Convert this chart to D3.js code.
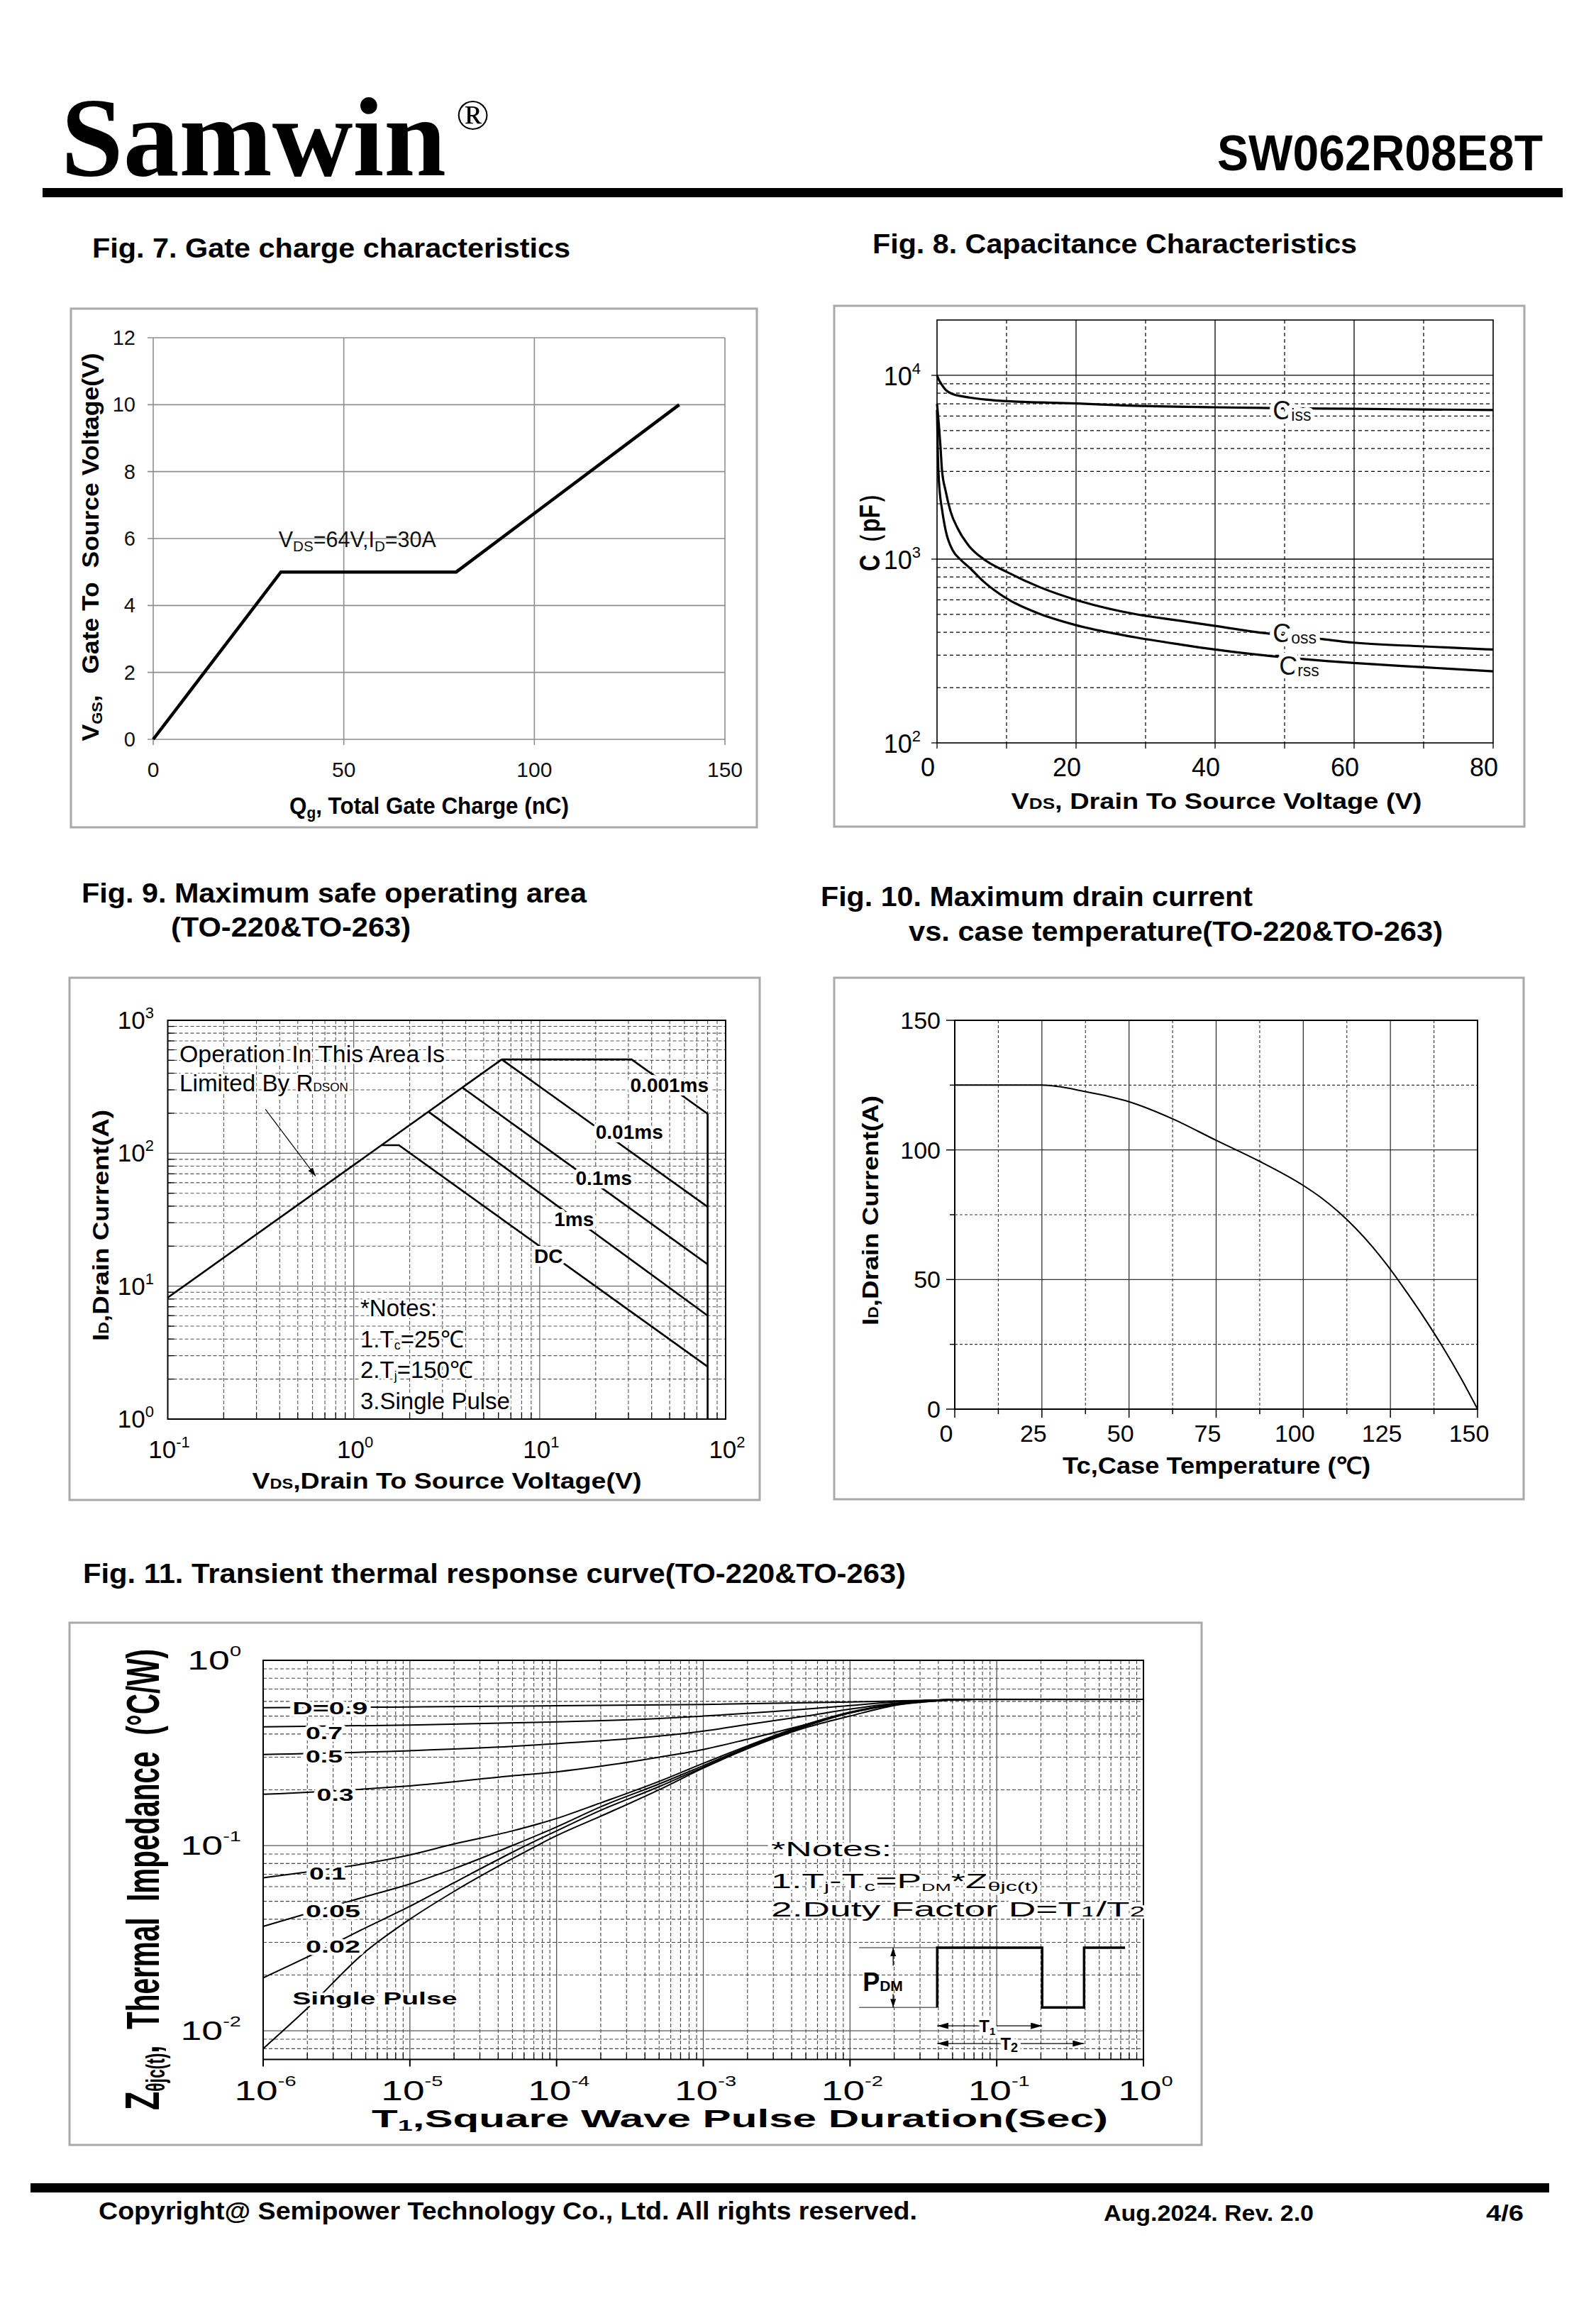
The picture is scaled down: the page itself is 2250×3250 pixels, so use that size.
<!DOCTYPE html>
<html><head><meta charset="utf-8"><title>SW062R08E8T</title>
<script src="https://cdn.jsdelivr.net/npm/d3@7/dist/d3.min.js"></script>
<style>html,body{margin:0;padding:0;background:#fff}svg{display:block}text{white-space:pre}</style>
</head><body>
<script>
// ===================== DATA =====================
const brandName = "Samwin";
const partNumber = "SW062R08E8T";

// Fig.7 Gate charge
const gateChargeQg = [0, 33.5, 79.5, 138];
const gateChargeVgs = [0, 5, 5, 10];
const gateQgTicks = [0, 50, 100, 150];
const gateVgsTicks = [0, 2, 4, 6, 8, 10, 12];

// Fig.8 Capacitance
const cissVds = [0, 0.3, 0.6, 1.26, 2.28, 3.5, 4.66, 7, 10, 15, 20, 27.5, 40, 50, 60, 70, 80];
const cissPf  = [10000, 9400, 9000, 8320, 7900, 7700, 7570, 7380, 7230, 7120, 7030, 6850, 6700, 6620, 6570, 6520, 6480];
const cossVds = [0, 0.26, 0.5, 0.7, 1.26, 1.94, 2.96, 4.66, 6.7, 10, 14.8, 20, 28.4, 35, 40, 47, 56, 60, 70, 80];
const cossPf  = [7000, 5400, 4090, 3085, 2330, 1820, 1472, 1172, 1000, 853, 703, 600, 503, 462, 433, 396, 365, 351, 335, 322];
const crssVds = [0, 0.1, 0.2, 0.4, 0.7, 1.26, 2.28, 3.3, 4.66, 6.7, 10, 14.8, 20, 28.4, 35, 40, 48, 56, 60, 70, 80];
const crssPf  = [6500, 4000, 3000, 2300, 1885, 1422, 1112, 1000, 899, 755, 611, 503, 437, 376, 343, 322, 297, 279, 272, 258, 245];
const capVdsTicks = [0, 20, 40, 60, 80];
const capPfTicks = [100, 1000, 10000];
const capPfTickExp = [2, 3, 4];
const capLabelSubs = ["iss", "oss", "rss"];
const capLabelV = [48.3, 48.3, 49.2];
const capLabelPf = [5780, 352, 234];

// Fig.9 Safe operating area
const soaRdsonLimit = [[0.1, 8.2], [6.25, 508]];
const soa0001ms = [[6.25, 508], [31.2, 508], [80, 198]];
const soa001ms = [[6.25, 508], [80, 39.5]];
const soa01ms = [[3.84, 312], [80, 14.6]];
const soa1ms = [[2.54, 204], [80, 6.0]];
const soaDC = [[1.42, 115], [1.75, 115], [80, 2.48]];
const soaVdssLimit = [[80, 198], [80, 1]];
const soaLabelText = ["0.001ms", "0.01ms", "0.1ms", "1ms", "DC"];
const soaLabelV = [30.7, 20.0, 15.6, 11.97, 9.33];
const soaLabelI = [290, 129, 58, 28.4, 15.0];
const soaVTicks = [0.1, 1, 10, 100];
const soaVTickExp = [-1, 0, 1, 2];
const soaITicks = [1, 10, 100, 1000];
const soaITickExp = [0, 1, 2, 3];
const soaArrow = [[0.335, 214], [0.6235, 67.4]];

// Fig.10 Max drain current vs case temperature
const caseTempC = [0, 25, 37.5, 50, 62.5, 75, 87.5, 100, 105, 110, 115, 120, 125, 130, 135, 140, 145, 150];
const drainCurrentA = [125, 125, 122.5, 118.6, 112, 103.7, 95.6, 86.3, 81.7, 76.2, 69.8, 62.4, 53.9, 44.5, 34.6, 24.0, 12.5, 0];
const tempTicks = [0, 25, 50, 75, 100, 125, 150];
const currentTicks = [0, 50, 100, 150];

// Fig.11 Transient thermal response
const zthD09 = [[1e-6,0.555],[1e-5,0.56],[1e-4,0.568],[1e-3,0.578],[1e-2,0.595],[3e-2,0.608],[6e-2,0.614],[1,0.615]];
const zthD07 = [[1e-6,0.437],[1e-5,0.447],[1e-4,0.465],[5e-4,0.485],[1e-3,0.5],[5e-3,0.545],[1e-2,0.57],[2e-2,0.595],[4e-2,0.61],[7e-2,0.615],[1,0.615]];
const zthD05 = [[1e-6,0.31],[1e-5,0.325],[5e-5,0.343],[1e-4,0.355],[5e-4,0.39],[1e-3,0.415],[2e-3,0.45],[5e-3,0.5],[1e-2,0.545],[2e-2,0.585],[4e-2,0.607],[7e-2,0.615],[1,0.615]];
const zthD03 = [[1e-6,0.189],[5e-6,0.202],[1e-5,0.21],[5e-5,0.238],[1e-4,0.25],[2e-4,0.268],[5e-4,0.3],[1e-3,0.33],[2e-3,0.375],[5e-3,0.45],[1e-2,0.52],[2e-2,0.575],[4e-2,0.605],[7e-2,0.615],[1,0.615]];
const zthD01 = [[1e-6,0.067],[2e-6,0.072],[5e-6,0.08],[1e-5,0.089],[2e-5,0.102],[5e-5,0.12],[1e-4,0.14],[2e-4,0.17],[5e-4,0.222],[1e-3,0.278],[2e-3,0.345],[5e-3,0.45],[1e-2,0.525],[2e-2,0.58],[4e-2,0.61],[7e-2,0.615],[1,0.615]];
const zthD005 = [[1e-6,0.0366],[2e-6,0.043],[5e-6,0.053],[1e-5,0.062],[2e-5,0.075],[5e-5,0.1],[1e-4,0.126],[2e-4,0.162],[5e-4,0.215],[1e-3,0.27],[2e-3,0.34],[5e-3,0.445],[1e-2,0.52],[2e-2,0.58],[4e-2,0.61],[7e-2,0.615],[1,0.615]];
const zthD002 = [[1e-6,0.0193],[2e-6,0.025],[5e-6,0.036],[1e-5,0.047],[2e-5,0.063],[5e-5,0.092],[1e-4,0.12],[2e-4,0.155],[5e-4,0.208],[1e-3,0.265],[2e-3,0.335],[5e-3,0.44],[1e-2,0.52],[2e-2,0.58],[4e-2,0.61],[7e-2,0.615],[1,0.615]];
const zthSingle = [[1e-6,0.008],[2e-6,0.0132],[5e-6,0.0268],[1e-5,0.040],[2e-5,0.0565],[5e-5,0.085],[1e-4,0.113],[2e-4,0.144],[5e-4,0.2],[1e-3,0.262],[2e-3,0.333],[5e-3,0.433],[1e-2,0.5],[2e-2,0.57],[4e-2,0.605],[7e-2,0.615],[1,0.615]];
const zthLabelText = ["D=0.9", "0.7", "0.5", "0.3", "0.1", "0.05", "0.02", "Single Pulse"];
const zthLabelT = [1.585e-6, 1.95e-6, 1.95e-6, 2.32e-6, 2.06e-6, 1.95e-6, 1.95e-6, 1.585e-6];
const zthLabelZ = [0.512, 0.376, 0.282, 0.175, 0.0656, 0.0412, 0.0264, 0.01386];
const zthLabelLen = [106, 52, 52, 52, 52, 77, 77, 232];
const zthTTicks = [1e-6, 1e-5, 1e-4, 1e-3, 1e-2, 1e-1, 1];
const zthTTickExp = [-6, -5, -4, -3, -2, -1, 0];
const zthZTicks = [0.01, 0.1, 1];
const zthZTickExp = [-2, -1, 0];
const pulseWaveT = [0.0393, 0.0393, 0.204, 0.204, 0.394, 0.394, 0.75];
const pulseWaveZ = [0.01337, 0.02807, 0.02807, 0.01337, 0.01337, 0.02807, 0.02807];

// ===================== HELPERS =====================
const FONT = "'Liberation Sans', Arial, Helvetica, sans-serif";
const SERIF = "'Liberation Serif', 'Times New Roman', serif";
const svg = d3.select("body").append("svg").attr("width", 2250).attr("height", 3250);
svg.append("rect").attr("width", 2250).attr("height", 3250).attr("fill", "#fff");
const defs = svg.append("defs");
function makeMarker(id, w, h) {
  defs.append("marker").attr("id", id).attr("viewBox", "0 0 10 10").attr("refX", 10).attr("refY", 5)
    .attr("markerWidth", w).attr("markerHeight", h).attr("markerUnits", "userSpaceOnUse")
    .attr("preserveAspectRatio", "none").attr("orient", "auto-start-reverse")
    .append("path").attr("d", "M0,0 L10,5 L0,10 Z").attr("fill", "#000");
}
makeMarker("arrSmall", 12, 8);
makeMarker("arrMid", 16, 9);

function rich(parent, x, y, parts, o) {
  o = Object.assign({size: 30, weight: "normal", anchor: "start", fill: "#000", family: FONT}, o || {});
  const t = parent.append("text").attr("x", x).attr("y", y)
    .attr("font-size", o.size).attr("font-weight", o.weight)
    .attr("text-anchor", o.anchor).attr("fill", o.fill).attr("font-family", o.family);
  if (o.len) t.attr("textLength", o.len).attr("lengthAdjust", "spacingAndGlyphs");
  if (o.transform) t.attr("transform", o.transform);
  if (o.halo) t.attr("stroke", "#fff").attr("stroke-width", o.halo).attr("paint-order", "stroke").attr("stroke-linejoin", "round");
  let cur = 0;
  (Array.isArray(parts) ? parts : [parts]).forEach(p => {
    const part = typeof p === "string" ? {t: p} : p;
    const ts = t.append("tspan").text(part.t);
    const target = part.shift || 0;
    if (target !== cur) { ts.attr("dy", target - cur); cur = target; }
    if (part.size) ts.attr("font-size", part.size);
  });
  return t;
}
function powParts(exp, sup, raise) { return [{t: "10"}, {t: String(exp), size: sup, shift: -raise}]; }
function minors(e0, e1) { const o = []; for (let e = e0; e < e1; e++) for (let k = 2; k <= 9; k++) o.push(k * Math.pow(10, e)); return o; }
function vline(g, x, y1, y2, st) { return g.append("line").attr("x1", x).attr("x2", x).attr("y1", y1).attr("y2", y2).attr("stroke", st.c).attr("stroke-width", st.w).attr("stroke-dasharray", st.d || null); }
function hline(g, y, x1, x2, st) { return g.append("line").attr("x1", x1).attr("x2", x2).attr("y1", y).attr("y2", y).attr("stroke", st.c).attr("stroke-width", st.w).attr("stroke-dasharray", st.d || null); }
function box(x1, y1, x2, y2) { svg.append("rect").attr("x", x1).attr("y", y1).attr("width", x2 - x1).attr("height", y2 - y1).attr("fill", "none").attr("stroke", "#a9a9a9").attr("stroke-width", 3); }
function frame(g, x1, y1, x2, y2, w) { g.append("rect").attr("x", x1).attr("y", y1).attr("width", x2 - x1).attr("height", y2 - y1).attr("fill", "none").attr("stroke", "#000").attr("stroke-width", w); }

// ===================== HEADER / FOOTER =====================
rich(svg, 86, 247, brandName, {size: 158, weight: "bold", family: SERIF, len: 543});
rich(svg, 643, 182, "®", {size: 62, family: SERIF});
rich(svg, 1716, 240, partNumber, {size: 70, weight: "bold", len: 459});
svg.append("rect").attr("x", 60).attr("y", 265).attr("width", 2143).attr("height", 13).attr("fill", "#000");
svg.append("rect").attr("x", 43).attr("y", 3077).attr("width", 2141).attr("height", 13).attr("fill", "#000");
rich(svg, 139, 3128, "Copyright@ Semipower Technology Co., Ltd. All rights reserved.", {size: 35, weight: "bold", len: 1154});
rich(svg, 1556, 3130, "Aug.2024. Rev. 2.0", {size: 31, weight: "bold", len: 296});
rich(svg, 2095, 3130, "4/6", {size: 31, weight: "bold", len: 53});

// Titles
rich(svg, 130, 363, "Fig. 7. Gate charge characteristics", {size: 38, weight: "bold", len: 674});
rich(svg, 1230, 357, "Fig. 8. Capacitance Characteristics", {size: 38, weight: "bold", len: 683});
rich(svg, 115, 1272, "Fig. 9. Maximum safe operating area", {size: 38, weight: "bold", len: 712});
rich(svg, 241, 1320, "(TO-220&TO-263)", {size: 38, weight: "bold", len: 338});
rich(svg, 1157, 1277, "Fig. 10. Maximum drain current", {size: 38, weight: "bold", len: 609});
rich(svg, 1281, 1326, "vs. case temperature(TO-220&TO-263)", {size: 38, weight: "bold", len: 753});
rich(svg, 117, 2231, "Fig. 11. Transient thermal response curve(TO-220&TO-263)", {size: 38, weight: "bold", len: 1160});

// Boxes
box(100, 435, 1067, 1166);
box(1176, 431, 2149, 1165);
box(98, 1378, 1071, 2114);
box(1176, 1378, 2148, 2113);
box(98, 2287, 1694, 3023);

// ===================== FIG 7 =====================
(function () {
  const g = svg.append("g");
  const x = d3.scaleLinear().domain([0, 150]).range([216, 1022]);
  const y = d3.scaleLinear().domain([0, 12]).range([1042, 476]);
  const st = {c: "#8e8e8e", w: 1.6};
  gateQgTicks.forEach(v => vline(g, x(v), y(12), y(0) + 8, st));
  gateVgsTicks.forEach(v => hline(g, y(v), x(0) - 8, x(150), st));
  gateVgsTicks.forEach(v => rich(g, 191, y(v) + 10, String(v), {size: 29, anchor: "end", fill: "#111"}));
  gateQgTicks.forEach(v => rich(g, x(v), 1095, String(v), {size: 30, anchor: "middle", fill: "#111"}));
  const pts = gateChargeQg.map((q, i) => [q, gateChargeVgs[i]]);
  g.append("path").attr("d", d3.line().x(d => x(d[0])).y(d => y(d[1]))(pts))
    .attr("fill", "none").attr("stroke", "#000").attr("stroke-width", 4.5).attr("stroke-linejoin", "miter");
  rich(g, x(32.9), y(5.75), ["V", {t: "DS", size: 21, shift: 6}, {t: "=64V,I", shift: 0}, {t: "D", size: 21, shift: 6}, {t: "=30A", shift: 0}], {size: 31, len: 222, fill: "#111"});
  rich(g, 0, 0, ["V", {t: "GS", size: 21, shift: 5}, {t: ",   Gate To  Source Voltage(V)", shift: 0}],
    {size: 34, weight: "bold", anchor: "middle", len: 547, transform: "translate(139,771) rotate(-90)"});
  rich(g, 605, 1147, ["Q", {t: "g", size: 22, shift: 6}, {t: ", Total Gate Charge (nC)", shift: 0}], {size: 33, weight: "bold", anchor: "middle", len: 394});
})();

// ===================== FIG 8 =====================
(function () {
  const g = svg.append("g");
  const x = d3.scaleLinear().domain([0, 80]).range([1321, 2105]);
  const y = d3.scaleLog().domain([100, 20000]).range([1047, 451]);
  const dash = {c: "#000", w: 1.2, d: "5,4"}, solid = {c: "#000", w: 1.3};
  [10, 30, 50, 70].forEach(v => vline(g, x(v), y(20000), y(100), dash));
  [20, 40, 60].forEach(v => vline(g, x(v), y(20000), y(100), solid));
  minors(2, 4).forEach(v => hline(g, y(v), x(0), x(80), dash));
  [1000, 10000].forEach(v => hline(g, y(v), x(0), x(80), solid));
  frame(g, x(0), y(20000), x(80), y(100), 1.6);
  d3.range(0, 81, 10).forEach(v => vline(g, x(v), y(100), y(100) + 8, solid));
  capPfTicks.forEach(v => hline(g, y(v), x(0) - 8, x(0), solid));
  capPfTicks.forEach((v, i) => rich(g, 1298, y(v) + 14, powParts(capPfTickExp[i], 22, 16), {size: 36, anchor: "end"}));
  capVdsTicks.forEach(v => rich(g, x(v) - 13, 1094, String(v), {size: 36, anchor: "middle"}));
  const line = d3.line().x(d => x(d[0])).y(d => y(d[1])).curve(d3.curveMonotoneX);
  [[cissVds, cissPf], [cossVds, cossPf], [crssVds, crssPf]].forEach(([vs, cs]) => {
    g.append("path").attr("d", line(vs.map((v, i) => [v, cs[i]])))
      .attr("fill", "none").attr("stroke", "#000").attr("stroke-width", 3.2);
  });
  capLabelSubs.forEach((s, i) => rich(g, x(capLabelV[i]), y(capLabelPf[i]), ["C", {t: s, size: 23, shift: 2}], {size: 36, halo: 12, fill: "#111"}));
  rich(g, 0, 0, "C（pF）", {size: 40, weight: "bold", anchor: "middle", len: 126, transform: "translate(1240,742) rotate(-90)"});
  rich(g, 1715, 1140, ["V", {t: "DS", size: 22}, ", Drain To Source Voltage (V)"], {size: 32, weight: "bold", anchor: "middle", len: 579});
})();

// ===================== FIG 9 =====================
(function () {
  const g = svg.append("g");
  const x = d3.scaleLog().domain([0.1, 100]).range([236.5, 1023]);
  const y = d3.scaleLog().domain([1, 1000]).range([2000, 1438]);
  const dash = {c: "#555", w: 1.1, d: "5,3"}, solid = {c: "#666", w: 1.3};
  minors(-1, 2).forEach(v => vline(g, x(v), y(1000), y(1), dash));
  minors(0, 3).forEach(v => hline(g, y(v), x(0.1), x(100), dash));
  [1, 10].forEach(v => vline(g, x(v), y(1000), y(1), solid));
  [10, 100].forEach(v => hline(g, y(v), x(0.1), x(100), solid));
  frame(g, x(0.1), y(1000), x(100), y(1), 2);
  minors(-1, 2).forEach(v => vline(g, x(v), y(1), y(1) - 9, {c: "#000", w: 1.3}));
  minors(0, 3).forEach(v => hline(g, y(v), x(0.1), x(0.1) + 9, {c: "#000", w: 1.3}));
  soaITicks.forEach((v, i) => rich(g, 217, y(v) + 12, powParts(soaITickExp[i], 22, 15), {size: 35, anchor: "end"}));
  soaVTicks.forEach((v, i) => rich(g, x(v) + 2, 2055, powParts(soaVTickExp[i], 22, 15), {size: 35, anchor: "middle"}));
  const line = d3.line().x(d => x(d[0])).y(d => y(d[1]));
  [soaRdsonLimit, soa0001ms, soa001ms, soa01ms, soa1ms, soaDC, soaVdssLimit].forEach(d => {
    g.append("path").attr("d", line(d)).attr("fill", "none").attr("stroke", "#000").attr("stroke-width", 2.6).attr("stroke-linejoin", "miter");
  });
  soaLabelText.forEach((s, i) => rich(g, x(soaLabelV[i]), y(soaLabelI[i]), s, {size: 28, weight: "bold", halo: 10}));
  rich(g, x(0.1156), y(483), "Operation In This Area Is", {size: 33, len: 374, halo: 6});
  rich(g, x(0.1156), y(294), ["Limited By R", {t: "DSON", size: 17}], {size: 33, len: 238, halo: 6});
  g.append("path").attr("d", line(soaArrow)).attr("fill", "none").attr("stroke", "#000").attr("stroke-width", 1.2).attr("marker-end", "url(#arrSmall)");
  rich(g, x(1.085), y(5.97), "*Notes:", {size: 33, halo: 6});
  rich(g, x(1.085), y(3.44), ["1.T", {t: "c", size: 18, shift: 3}, {t: "=25℃", shift: 0}], {size: 33, halo: 6});
  rich(g, x(1.085), y(2.03), ["2.T", {t: "j", size: 18, shift: 3}, {t: "=150℃", shift: 0}], {size: 33, halo: 6});
  rich(g, x(1.085), y(1.19), "3.Single Pulse", {size: 33, halo: 6});
  rich(g, 0, 0, ["I", {t: "D", size: 20}, ",Drain Current(A)"], {size: 32, weight: "bold", anchor: "middle", len: 326, transform: "translate(153,1727) rotate(-90)"});
  rich(g, 630, 2098, ["V", {t: "DS", size: 20}, ",Drain To Source Voltage(V)"], {size: 32, weight: "bold", anchor: "middle", len: 549});
})();

// ===================== FIG 10 =====================
(function () {
  const g = svg.append("g");
  const x = d3.scaleLinear().domain([0, 150]).range([1346, 2083]);
  const y = d3.scaleLinear().domain([0, 150]).range([1986, 1438]);
  const dash = {c: "#333", w: 1.1, d: "4,3"}, solid = {c: "#333", w: 1.3};
  [12.5, 37.5, 62.5, 87.5, 112.5, 137.5].forEach(v => vline(g, x(v), y(150), y(0), dash));
  [25, 50, 75, 100, 125].forEach(v => vline(g, x(v), y(150), y(0), solid));
  [25, 75, 125].forEach(v => hline(g, y(v), x(0), x(150), dash));
  [50, 100].forEach(v => hline(g, y(v), x(0), x(150), solid));
  frame(g, x(0), y(150), x(150), y(0), 2);
  d3.range(0, 151, 12.5).forEach(v => vline(g, x(v), y(0), y(0) + (v % 25 === 0 ? 12 : 7), {c: "#000", w: 1.5}));
  d3.range(0, 151, 25).forEach(v => hline(g, y(v), x(0) - (v % 50 === 0 ? 12 : 7), x(0), {c: "#000", w: 1.5}));
  currentTicks.forEach(v => rich(g, 1326, y(v) + 12, String(v), {size: 34, anchor: "end"}));
  tempTicks.forEach(v => rich(g, x(v) - 12, 2032, String(v), {size: 34, anchor: "middle"}));
  const pts = caseTempC.map((t, i) => [t, drainCurrentA[i]]);
  g.append("path").attr("d", d3.line().x(d => x(d[0])).y(d => y(d[1])).curve(d3.curveMonotoneX)(pts))
    .attr("fill", "none").attr("stroke", "#000").attr("stroke-width", 2);
  rich(g, 0, 0, ["I", {t: "D", size: 20}, ",Drain Current(A)"], {size: 32, weight: "bold", anchor: "middle", len: 324, transform: "translate(1238,1706) rotate(-90)"});
  rich(g, 1715, 2077, "Tc,Case Temperature (℃)", {size: 33, weight: "bold", anchor: "middle", len: 434});
})();

// ===================== FIG 11 =====================
(function () {
  const g = svg.append("g");
  const x = d3.scaleLog().domain([1e-6, 1]).range([371, 1612]);
  const y = d3.scaleLog().domain([0.007, 1]).range([2902.5, 2340]);
  const dash = {c: "#444", w: 1.1, d: "5,3"}, solid = {c: "#555", w: 1.3};
  minors(-6, 0).forEach(v => vline(g, x(v), y(1), y(0.007), dash));
  minors(-3, 0).filter(v => v >= 0.00699).forEach(v => hline(g, y(v), x(1e-6), x(1), dash));
  [1e-5, 1e-4, 1e-3, 1e-2, 1e-1].forEach(v => vline(g, x(v), y(1), y(0.007), solid));
  [0.01, 0.1].forEach(v => hline(g, y(v), x(1e-6), x(1), solid));
  frame(g, x(1e-6), y(1), x(1), y(0.007), 2);
  minors(-6, 0).forEach(v => vline(g, x(v), y(0.007), y(0.007) - 9, {c: "#000", w: 1.3}));
  zthTTicks.forEach(v => vline(g, x(v), y(0.007), y(0.007) + 10, {c: "#000", w: 2}));
  zthZTicks.forEach((v, i) => rich(g, 0, 0, powParts(zthZTickExp[i], 20, 19), {size: 37, anchor: "end", transform: `translate(340,${y(v) + 13}) scale(1.45,1)`}));
  zthTTicks.forEach((v, i) => rich(g, 0, 0, powParts(zthTTickExp[i], 20, 20), {size: 38, anchor: "middle", transform: `translate(${x(v) + 3},2960) scale(1.45,1)`}));
  const line = d3.line().x(d => x(d[0])).y(d => y(d[1])).curve(d3.curveMonotoneX);
  [zthD09, zthD07, zthD05, zthD03, zthD01, zthD005, zthD002, zthSingle].forEach(d => {
    g.append("path").attr("d", line(d)).attr("fill", "none").attr("stroke", "#000").attr("stroke-width", 2);
  });
  zthLabelText.forEach((s, i) => rich(g, x(zthLabelT[i]), y(zthLabelZ[i]), s, {size: 24, weight: "bold", len: zthLabelLen[i], halo: 7}));
  // notes
  const nx = x(2.9e-3);
  rich(g, nx, y(0.0877), "*Notes:", {size: 29, len: 170, halo: 6});
  rich(g, nx, y(0.0589), ["1.T", {t: "j", size: 18, shift: 4}, {t: "-T", shift: 0}, {t: "c", size: 18, shift: 4}, {t: "=P", shift: 0}, {t: "DM", size: 15, shift: 4}, {t: "*Z", shift: 0}, {t: "θjc(t)", size: 18, shift: 4}], {size: 29, len: 377, halo: 6});
  rich(g, nx, y(0.0414), ["2.Duty Factor D=T", {t: "1", size: 21}, "/T", {t: "2", size: 21}], {size: 29, len: 527, halo: 6});
  // pulse diagram
  const pl = d3.line().x(d => x(d[0])).y(d => y(d[1]));
  [0.02807, 0.01337].forEach(z => g.append("path").attr("d", pl([[0.01153, z], [0.0393, z]])).attr("stroke", "#666").attr("stroke-width", 1.5).attr("fill", "none"));
  g.append("path").attr("d", pl(pulseWaveT.map((t, i) => [t, pulseWaveZ[i]]))).attr("fill", "none").attr("stroke", "#000").attr("stroke-width", 3.5).attr("stroke-linejoin", "miter");
  g.append("path").attr("d", pl([[0.01968, 0.0225], [0.01968, 0.02807]])).attr("stroke", "#000").attr("stroke-width", 1.3).attr("marker-end", "url(#arrSmall)");
  g.append("path").attr("d", pl([[0.01968, 0.0158], [0.01968, 0.01337]])).attr("stroke", "#000").attr("stroke-width", 1.3).attr("marker-end", "url(#arrSmall)");
  rich(g, x(0.0122), y(0.0164), ["P", {t: "DM", size: 21}], {size: 36, weight: "bold"});
  g.append("path").attr("d", pl([[0.0393, 0.01063], [0.204, 0.01063]])).attr("stroke", "#000").attr("stroke-width", 1.3).attr("marker-start", "url(#arrMid)").attr("marker-end", "url(#arrMid)");
  g.append("path").attr("d", pl([[0.0393, 0.00853], [0.394, 0.00853]])).attr("stroke", "#000").attr("stroke-width", 1.3).attr("marker-start", "url(#arrMid)").attr("marker-end", "url(#arrMid)");
  rich(g, x(0.0861), y(0.01063) + 9, ["T", {t: "1", size: 15, shift: 4}], {size: 24, weight: "bold", anchor: "middle", halo: 10});
  rich(g, x(0.1216), y(0.00853) + 9, ["T", {t: "2", size: 18, shift: 3}], {size: 24, weight: "bold", anchor: "middle", halo: 10});
  // axis titles
  rich(g, 0, 0, [{t: "Z", size: 68}, {t: "θjc(t)", size: 36, shift: 8}, {t: ",  Thermal  Impedance  (°C/W)", shift: 0}],
    {size: 64, weight: "bold", anchor: "middle", len: 650, transform: "translate(224,2649) rotate(-90)"});
  rich(g, 1043, 2998, ["T", {t: "1", size: 22, shift: 5}, {t: ",Square Wave Pulse Duration(Sec)", shift: 0}], {size: 35, weight: "bold", anchor: "middle", len: 1038});
})();
</script>
</body></html>
